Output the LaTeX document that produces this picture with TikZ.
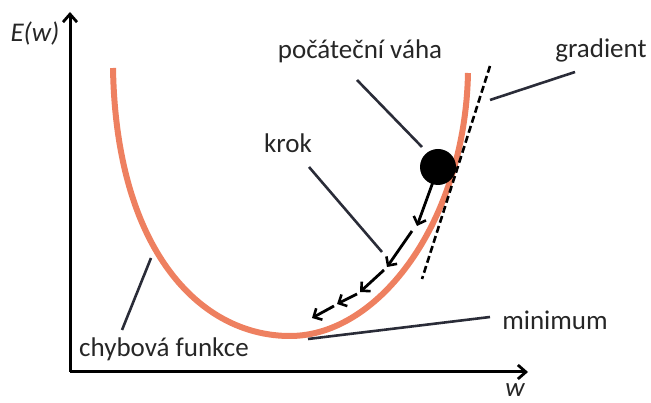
\documentclass[tikz,border=0pt]{standalone}
\usepackage{fontspec}
\setmainfont{Carlito}
\usetikzlibrary{arrows.meta}
\definecolor{curvecol}{HTML}{EE8060}
\definecolor{leadcol}{HTML}{2A2C38}
\definecolor{txtcol}{HTML}{262626}
\tikzset{
  lbl/.style={font=\fontsize{27}{30}\selectfont, text=txtcol, inner sep=0pt},
  lead/.style={draw=leadcol, line width=2.6pt},
  axis/.style={draw=black, line width=3pt, -{Straight Barb[length=8pt,width=14pt,line width=2.8pt]}},
  stepar/.style={draw=black, line width=2.8pt, -{Straight Barb[length=6.5pt,width=13pt,line width=2.6pt]}},
}
\begin{document}
\begin{tikzpicture}[x=1pt,y=-1pt]
\useasboundingbox (0,0) rectangle (651,403);
% axes
\coordinate (O) at (70,372);
\coordinate (Ytip) at (70,12);
\coordinate (Xtip) at (528,372);
\draw[axis] (O) -- (Ytip);
\draw[axis] (O) -- (Xtip);
\node[lbl, font=\fontsize{27}{30}\selectfont\itshape] (Ew) at (35,34) {E(w)};
\node[lbl, font=\fontsize{27}{30}\selectfont\itshape] (wl) at (515,390) {w};
% curve
\draw[curvecol, line width=6pt]
  (113,68) .. controls (116,250) and (200,336) .. (290,336)
  .. controls (380,336) and (465,220) .. (468,73);
% tangent
\coordinate (T1) at (490,66);
\coordinate (T2) at (422,279);
\draw[black, line width=2.6pt, dash pattern=on 7pt off 3.5pt] (T1) -- (T2);
% ball
\node[circle, fill=black, minimum size=36pt, inner sep=0pt] (ball) at (438,167) {};
% steps
\coordinate (s0) at (433,182);
\coordinate (s1) at (417,226);
\coordinate (s1b) at (412,231);
\coordinate (s2) at (387,267);
\coordinate (s2b) at (384,270);
\coordinate (s3) at (360,292);
\coordinate (s3b) at (357,294);
\coordinate (s4) at (337,304);
\coordinate (s4b) at (334,306);
\coordinate (s5) at (312,318);
\draw[stepar] (s0) -- (s1);
\draw[stepar] (s1b) -- (s2);
\draw[stepar] (s2b) -- (s3);
\draw[stepar] (s3b) -- (s4);
\draw[stepar] (s4b) -- (s5);
% labels
\node[lbl] (pv) at (360,51) {počáteční váha};
\node[lbl] (gr) at (601,50) {gradient};
\node[lbl] (kr) at (288,143) {krok};
\node[lbl] (mi) at (555,320) {minimum};
\node[lbl] (cf) at (164,349) {chybová funkce};
% leaders
\coordinate (pvA) at (357,80);
\coordinate (pvB) at (422,147);
\coordinate (grA) at (575,72);
\coordinate (grB) at (490,100);
\coordinate (krA) at (309,167);
\coordinate (krB) at (382,252);
\coordinate (miA) at (490,317);
\coordinate (miB) at (308,339);
\coordinate (cfA) at (151,258);
\coordinate (cfB) at (122,330);
\draw[lead] (pvA) -- (pvB);
\draw[lead] (grA) -- (grB);
\draw[lead] (krA) -- (krB);
\draw[lead] (miA) -- (miB);
\draw[lead] (cfA) -- (cfB);
\end{tikzpicture}
\end{document}
